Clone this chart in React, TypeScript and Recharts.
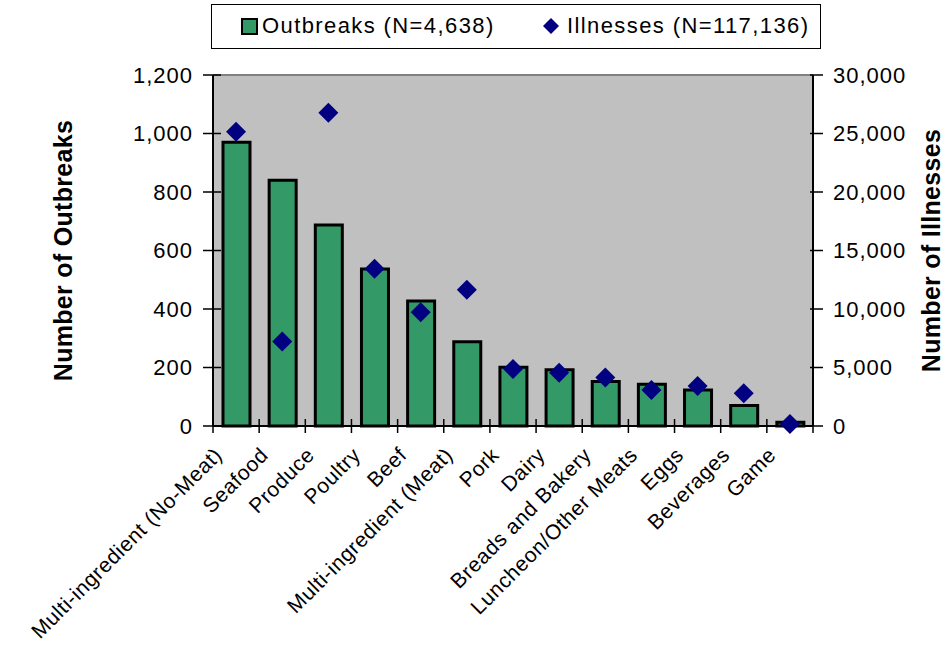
import React from 'react';
import { ComposedChart, Bar, Line, XAxis, YAxis, CartesianGrid, ReferenceLine, Label } from 'recharts';

const categories = [
  'Multi-ingredient (No-Meat)',
  'Seafood',
  'Produce',
  'Poultry',
  'Beef',
  'Multi-ingredient (Meat)',
  'Pork',
  'Dairy',
  'Breads and Bakery',
  'Luncheon/Other Meats',
  'Eggs',
  'Beverages',
  'Game',
];
const outbreaks = [970, 840, 687, 537, 427, 288, 201, 192, 152, 143, 123, 70, 13];
const illnesses = [25140, 7215, 26765, 13440, 9730, 11640, 4880, 4560, 4135, 3080, 3424, 2800, 170];
const leftTicks = [0, 200, 400, 600, 800, 1000, 1200];
const rightTicks = [0, 5000, 10000, 15000, 20000, 25000, 30000];

const data = categories.map((name, i) => ({ name, outbreaks: outbreaks[i], illnesses: illnesses[i] }));

const W = 945;
const H = 646;
const PLOT_LEFT = 213;
const PLOT_RIGHT = 813;
const PLOT_TOP = 75;
const PLOT_BOTTOM = 426;
const BAND = (PLOT_RIGHT - PLOT_LEFT) / categories.length;
const FONT = '"Liberation Sans", Arial, Helvetica, sans-serif';

const fmt = (v: number) => v.toLocaleString('en-US');

const XTick = (props: any) => {
  const { x, y, payload, index } = props;
  const half = BAND / 2;
  const ax = x - 18;
  const ay = y + 25;
  return (
    <g>
      <line x1={x - half} x2={x - half} y1={y - 7} y2={y + 7} stroke="#000" strokeWidth={1.5} />
      {index === categories.length - 1 && (
        <line x1={x + half} x2={x + half} y1={y - 7} y2={y + 7} stroke="#000" strokeWidth={1.5} />
      )}
      <text
        x={ax}
        y={ay}
        transform={`rotate(-45, ${ax}, ${ay})`}
        textAnchor="end"
        dominantBaseline="central"
        fontSize={21}
        letterSpacing={0.6}
        fontFamily={FONT}
        fill="#000"
      >
        {payload.value}
      </text>
    </g>
  );
};

const LeftTick = (props: any) => {
  const { y, payload } = props;
  return (
    <g>
      <line x1={PLOT_LEFT - 10} x2={PLOT_LEFT + 8} y1={y} y2={y} stroke="#000" strokeWidth={1.5} />
      <text x={PLOT_LEFT - 20} y={y} textAnchor="end" dominantBaseline="central" fontSize={22} letterSpacing={1} fontFamily={FONT} fill="#000">
        {fmt(payload.value)}
      </text>
    </g>
  );
};

const RightTick = (props: any) => {
  const { y, payload } = props;
  return (
    <g>
      <line x1={PLOT_RIGHT - 3} x2={PLOT_RIGHT + 10} y1={y} y2={y} stroke="#000" strokeWidth={1.5} />
      <text x={PLOT_RIGHT + 20} y={y} textAnchor="start" dominantBaseline="central" fontSize={22} letterSpacing={1} fontFamily={FONT} fill="#000">
        {fmt(payload.value)}
      </text>
    </g>
  );
};

const axisTitle = (text: string, x: number) => (props: any) => {
  const vb = props.viewBox || {};
  const cy = vb.height ? vb.y + vb.height / 2 : (PLOT_TOP + PLOT_BOTTOM) / 2;
  return (
    <text
      x={x}
      y={cy}
      transform={`rotate(-90, ${x}, ${cy})`}
      textAnchor="middle"
      dominantBaseline="central"
      fontSize={25}
      fontWeight="bold"
      letterSpacing={0.3}
      fontFamily={FONT}
      fill="#000"
    >
      {text}
    </text>
  );
};

const Diamond = (props: any) => {
  const { cx, cy } = props;
  if (cx == null || cy == null) return <g />;
  return <polygon points={`${cx},${cy - 10} ${cx + 10},${cy} ${cx},${cy + 10} ${cx - 10},${cy}`} fill="#000080" />;
};

const LegendBox = () => (
  <div
    style={{
      position: 'absolute',
      left: 211,
      top: 4,
      width: 610,
      height: 45,
      border: '1.5px solid #000',
      background: '#fff',
      fontFamily: FONT,
      fontSize: 22,
      letterSpacing: 1.4,
      color: '#000',
      boxSizing: 'border-box',
    }}
  >
    <div style={{ position: 'absolute', left: 29, top: 13, width: 13, height: 13, background: '#339966', border: '2px solid #000' }} />
    <div style={{ position: 'absolute', left: 50, top: 8, lineHeight: '26px', whiteSpace: 'nowrap' }}>Outbreaks (N=4,638)</div>
    <svg style={{ position: 'absolute', left: 331, top: 13 }} width={16} height={16}>
      <polygon points="8,0 16,8 8,16 0,8" fill="#000080" />
    </svg>
    <div style={{ position: 'absolute', left: 355, top: 8, lineHeight: '26px', whiteSpace: 'nowrap' }}>Illnesses (N=117,136)</div>
  </div>
);

export default function App() {
  return (
    <div style={{ position: 'absolute', left: 0, top: 0, width: W, height: H, background: '#fff' }}>
      <ComposedChart
        width={W}
        height={H}
        data={data}
        margin={{ top: PLOT_TOP, right: 0, bottom: 20, left: 0 }}
        barCategoryGap={0}
      >
        <CartesianGrid fill="#C0C0C0" horizontal={false} vertical={false} yAxisId="left" />
        <XAxis
          dataKey="name"
          interval={0}
          height={H - 20 - PLOT_BOTTOM}
          tick={<XTick />}
          tickLine={false}
          tickSize={0}
          tickMargin={0}
          axisLine={{ stroke: '#000', strokeWidth: 2 }}
        />
        <YAxis
          yAxisId="left"
          orientation="left"
          width={PLOT_LEFT}
          domain={[0, 1200]}
          ticks={leftTicks}
          tick={<LeftTick />}
          tickLine={false}
          axisLine={{ stroke: '#000', strokeWidth: 2 }}
          interval={0}
        >
          <Label content={axisTitle('Number of Outbreaks', 63)} />
        </YAxis>
        <YAxis
          yAxisId="right"
          orientation="right"
          width={W - PLOT_RIGHT}
          domain={[0, 30000]}
          ticks={rightTicks}
          tick={<RightTick />}
          tickLine={false}
          axisLine={{ stroke: '#000', strokeWidth: 2 }}
          interval={0}
        >
          <Label content={axisTitle('Number of Illnesses', 931)} />
        </YAxis>
        <ReferenceLine yAxisId="left" y={1200} stroke="#808080" strokeWidth={2} />
        <Bar
          yAxisId="left"
          dataKey="outbreaks"
          fill="#339966"
          stroke="#000"
          strokeWidth={3}
          barSize={27}
          isAnimationActive={false}
        />
        <Line
          yAxisId="right"
          dataKey="illnesses"
          stroke="none"
          dot={<Diamond />}
          activeDot={false}
          isAnimationActive={false}
        />
      </ComposedChart>
      <LegendBox />
    </div>
  );
}
